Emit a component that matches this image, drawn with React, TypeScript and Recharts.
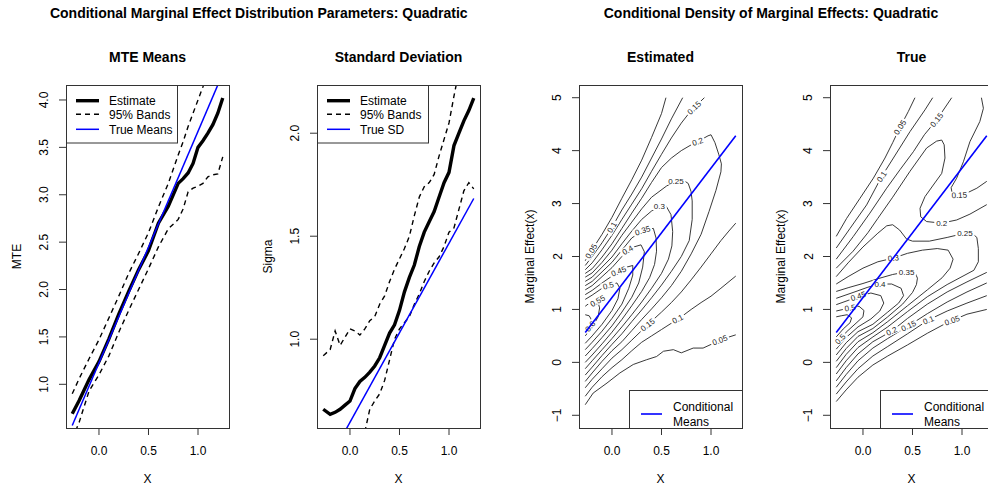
import React from "react";
import { ComposedChart, Line, XAxis, YAxis } from "recharts";

const FONT = '"Liberation Sans", Arial, Helvetica, sans-serif';
const BLUE = "#0000ff";
const FRAME = "#333";

// plot boxes: all four panels share the same size
const BOX_W = 163;
const BOX_H = 343;
const BOX_TOP = 85;
const AXIS_W = 50;
const AXIS_H = 50;
const panelLeft = [66, 317, 579, 830];

const xDomain: [number, number] = [-0.333, 1.313];
const xTicks = [0, 0.5, 1];

// ---- MTE means panel ----
const mteX = [-0.27, -0.2, -0.1, 0, 0.1, 0.2, 0.3, 0.4, 0.5, 0.6, 0.7, 0.8, 0.85, 0.9, 0.95, 1.0, 1.05, 1.1, 1.15, 1.2, 1.25];
const mteEstimate = [0.69, 0.83, 1.05, 1.24, 1.48, 1.74, 1.98, 2.21, 2.41, 2.7, 2.88, 3.12, 3.17, 3.23, 3.33, 3.5, 3.57, 3.65, 3.74, 3.86, 4.02];
const mteUpper = [0.9, 1.06, 1.27, 1.47, 1.7, 1.93, 2.17, 2.38, 2.6, 2.87, 3.12, 3.42, 3.56, 3.72, 3.86, 4.0, 4.14, 4.3, null, null, null];
const mteLower = [0.42, 0.6, 0.93, 1.1, 1.3, 1.55, 1.78, 2.0, 2.22, 2.45, 2.64, 2.74, 2.85, 3.03, 3.07, 3.09, 3.12, 3.19, 3.21, 3.22, 3.4];
const mteYTicks = [1, 1.5, 2, 2.5, 3, 3.5, 4];

// ---- standard deviation panel ----
const sdX = [-0.27, -0.2, -0.15, -0.1, -0.05, 0, 0.05, 0.1, 0.15, 0.2, 0.25, 0.3, 0.35, 0.4, 0.45, 0.5, 0.55, 0.6, 0.65, 0.7, 0.75, 0.8, 0.85, 0.9, 0.95, 1.0, 1.05, 1.1, 1.15, 1.2, 1.25];
const sdEstimate = [0.66, 0.635, 0.645, 0.66, 0.68, 0.7, 0.76, 0.795, 0.815, 0.84, 0.87, 0.91, 0.97, 1.03, 1.07, 1.14, 1.23, 1.3, 1.36, 1.45, 1.52, 1.57, 1.62, 1.69, 1.76, 1.81, 1.94, 2.0, 2.06, 2.11, 2.17];
const sdUpper = [0.92, 0.95, 1.04, 0.97, 1.01, 1.05, 1.04, 1.02, 1.05, 1.09, 1.11, 1.17, 1.21, 1.28, 1.34, 1.39, 1.44, 1.5, 1.6, 1.69, 1.74, 1.76, 1.8, 1.89, 1.97, 2.05, 2.18, 2.3, null, null, null];
const sdLower = [null, null, null, null, null, null, null, null, 0.55, 0.66, 0.7, 0.735, 0.8, 0.9, 1.0, 1.05, 1.08, 1.11, 1.17, 1.22, 1.28, 1.33, 1.37, 1.4, 1.45, 1.52, 1.54, 1.63, 1.72, 1.76, 1.73];
const sdYTicks = [1, 1.5, 2];

// true (straight) lines
const trueX = [-0.27, 1.25];
const trueMeans = [0.565, 4.28];
const trueSd = [0.362, 1.683];

// ---- contour panels ----
const densYTicks = [-1, 0, 1, 2, 3, 4, 5];

// estimated density contours, levels 0.05 .. 0.6
const estContours: number[][][] = [
  [[-0.27, 1.92], [-0.2, 2.13], [-0.1, 2.42], [0, 2.74], [0.1, 3.1], [0.2, 3.45], [0.3, 3.82], [0.4, 4.25], [0.5, 4.7], [0.545, 5.0]],
  [[-0.27, -0.8], [-0.19, -0.58], [-0.05, -0.39], [0.08, -0.2], [0.215, -0.04], [0.35, 0.05], [0.45, 0.11], [0.52, 0.21], [0.62, 0.24], [0.7, 0.18], [0.82, 0.27], [0.92, 0.27], [0.99, 0.33], [1.1, 0.43], [1.25, 0.52]],
  [[-0.27, 1.83], [-0.2, 2.0], [-0.1, 2.26], [0, 2.55], [0.1, 2.88], [0.2, 3.18], [0.3, 3.5], [0.4, 3.86], [0.5, 4.22], [0.6, 4.6], [0.714, 5.0]],
  [[-0.27, -0.64], [-0.2, -0.47], [-0.1, -0.27], [0, -0.1], [0.1, 0.05], [0.2, 0.22], [0.3, 0.38], [0.4, 0.5], [0.5, 0.62], [0.6, 0.74], [0.7, 0.86], [0.8, 1.0], [0.9, 1.13], [1.0, 1.25], [1.1, 1.4], [1.25, 1.63]],
  [[-0.27, 1.75], [-0.2, 1.88], [-0.1, 2.13], [0, 2.4], [0.1, 2.7], [0.2, 2.99], [0.3, 3.28], [0.4, 3.61], [0.5, 3.93], [0.6, 4.24], [0.7, 4.52], [0.8, 4.76], [0.933, 5.0]],
  [[-0.27, -0.48], [-0.2, -0.32], [-0.1, -0.12], [0, 0.08], [0.1, 0.24], [0.2, 0.42], [0.36, 0.71], [0.5, 0.95], [0.6, 1.13], [0.7, 1.33], [0.8, 1.56], [0.9, 1.8], [1.0, 2.05], [1.1, 2.3], [1.18, 2.48], [1.25, 2.63]],
  [[-0.27, -0.36], [-0.2, -0.2], [-0.1, 0.02], [0, 0.22], [0.1, 0.39], [0.2, 0.6], [0.3, 0.81], [0.4, 1.01], [0.5, 1.22], [0.6, 1.45], [0.7, 1.72], [0.8, 2.05], [0.9, 2.42], [0.98, 2.85], [1.05, 3.25], [1.1, 3.6], [1.105, 3.75], [1.08, 3.92], [1.04, 4.15], [1.0, 4.3], [0.97, 4.28], [0.865, 4.17], [0.8, 4.11], [0.7, 4.0], [0.6, 3.86], [0.5, 3.68], [0.4, 3.4], [0.3, 3.1], [0.2, 2.82], [0.1, 2.53], [0, 2.24], [-0.1, 1.99], [-0.2, 1.77], [-0.27, 1.68]],
  [[-0.27, -0.24], [-0.2, -0.09], [-0.1, 0.13], [0, 0.34], [0.1, 0.54], [0.2, 0.77], [0.3, 0.99], [0.4, 1.22], [0.5, 1.46], [0.6, 1.72], [0.7, 2.0], [0.78, 2.3], [0.81, 2.7], [0.81, 3.05], [0.798, 3.23], [0.77, 3.38], [0.73, 3.43], [0.646, 3.43], [0.55, 3.33], [0.4, 3.12], [0.3, 2.9], [0.2, 2.65], [0.1, 2.4], [0, 2.12], [-0.1, 1.89], [-0.2, 1.69], [-0.27, 1.61]],
  [[-0.27, -0.12], [-0.2, 0.03], [-0.1, 0.24], [0, 0.45], [0.1, 0.67], [0.2, 0.9], [0.3, 1.14], [0.4, 1.4], [0.5, 1.68], [0.57, 1.95], [0.605, 2.2], [0.613, 2.47], [0.596, 2.79], [0.545, 2.96], [0.478, 2.95], [0.4, 2.86], [0.3, 2.7], [0.2, 2.48], [0.1, 2.24], [0, 1.99], [-0.1, 1.8], [-0.2, 1.61], [-0.27, 1.53]],
  [[-0.27, 0.0], [-0.2, 0.14], [-0.1, 0.35], [0, 0.57], [0.1, 0.81], [0.2, 1.07], [0.3, 1.34], [0.38, 1.6], [0.43, 1.85], [0.45, 2.1], [0.445, 2.35], [0.418, 2.53], [0.35, 2.52], [0.31, 2.49], [0.2, 2.35], [0.1, 2.12], [0, 1.89], [-0.1, 1.71], [-0.2, 1.53], [-0.27, 1.45]],
  [[-0.27, 0.12], [-0.2, 0.26], [-0.1, 0.47], [0, 0.69], [0.1, 0.95], [0.2, 1.23], [0.27, 1.5], [0.31, 1.8], [0.327, 2.09], [0.293, 2.22], [0.22, 2.18], [0.158, 2.12], [0.1, 2.0], [0, 1.79], [-0.1, 1.62], [-0.2, 1.45], [-0.27, 1.37]],
  [[-0.27, 0.24], [-0.2, 0.38], [-0.1, 0.59], [0, 0.83], [0.1, 1.1], [0.17, 1.4], [0.21, 1.65], [0.21, 1.83], [0.15, 1.8], [0.067, 1.72], [0, 1.63], [-0.1, 1.5], [-0.2, 1.36], [-0.27, 1.28]],
  [[-0.27, 0.36], [-0.2, 0.5], [-0.1, 0.72], [0, 0.98], [0.06, 1.2], [0.08, 1.4], [0.05, 1.5], [-0.037, 1.45], [-0.1, 1.4], [-0.2, 1.27], [-0.27, 1.19]],
  [[-0.27, 0.5], [-0.2, 0.66], [-0.14, 0.86], [-0.125, 1.03], [-0.145, 1.16], [-0.2, 1.16], [-0.27, 1.06]],
  [[-0.27, 0.6], [-0.22, 0.68], [-0.2, 0.78], [-0.23, 0.88], [-0.27, 0.9]],
];

const estLabels = [
  { x: -0.21, y: 2.1, text: "0.05", angle: -58 },
  { x: 0, y: 2.55, text: "0.1", angle: -60 },
  { x: 0.83, y: 4.81, text: "0.15", angle: -44 },
  { x: 0.865, y: 4.17, text: "0.2", angle: -18 },
  { x: 0.646, y: 3.43, text: "0.25", angle: 0 },
  { x: 0.478, y: 2.95, text: "0.3", angle: 0 },
  { x: 0.31, y: 2.49, text: "0.35", angle: -18 },
  { x: 0.158, y: 2.12, text: "0.4", angle: -30 },
  { x: 0.067, y: 1.72, text: "0.45", angle: -22 },
  { x: -0.037, y: 1.45, text: "0.5", angle: -15 },
  { x: -0.145, y: 1.16, text: "0.55", angle: -30 },
  { x: -0.22, y: 0.68, text: "0.6", angle: -50 },
  { x: 0.36, y: 0.71, text: "0.15", angle: -38 },
  { x: 0.663, y: 0.82, text: "0.1", angle: -28 },
  { x: 1.09, y: 0.42, text: "0.05", angle: -20 },
];

// true density contours
const trueContours: number[][][] = [
  [[-0.27, 2.38], [-0.165, 2.72], [-0.03, 3.1], [0.105, 3.48], [0.222, 3.86], [0.3, 4.15], [0.374, 4.44], [0.458, 4.74], [0.525, 5.0]],
  [[-0.27, -0.74], [-0.17, -0.52], [-0.05, -0.28], [0.1, -0.05], [0.25, 0.12], [0.45, 0.33], [0.65, 0.55], [0.85, 0.75], [0.9, 0.79], [1.05, 0.91], [1.25, 1.0]],
  [[-0.27, 2.16], [-0.131, 2.53], [0.037, 2.975], [0.189, 3.51], [0.307, 3.86], [0.475, 4.36], [0.626, 4.77], [0.704, 5.0]],
  [[-0.27, -0.6], [-0.17, -0.37], [-0.05, -0.12], [0.1, 0.12], [0.25, 0.3], [0.45, 0.54], [0.66, 0.8], [0.85, 0.97], [1.05, 1.12], [1.25, 1.26]],
  [[-0.27, 1.95], [-0.097, 2.38], [0.07, 2.82], [0.239, 3.29], [0.374, 3.64], [0.509, 3.98], [0.62, 4.3], [0.744, 4.58], [0.896, 5.0]],
  [[1.196, 5.0], [1.216, 4.8], [1.18, 4.55], [1.08, 4.17], [1.014, 3.79], [0.946, 3.48], [0.89, 3.3], [0.9, 3.2], [0.973, 3.16], [1.05, 3.2], [1.15, 3.29], [1.25, 3.42]],
  [[-0.27, -0.47], [-0.17, -0.23], [-0.05, 0.03], [0.1, 0.27], [0.25, 0.45], [0.46, 0.69], [0.65, 0.92], [0.85, 1.14], [1.05, 1.33], [1.25, 1.5]],
  [[-0.27, 1.78], [-0.1, 2.1], [0.05, 2.45], [0.15, 2.72], [0.3, 3.12], [0.475, 3.61], [0.643, 4.05], [0.744, 4.18], [0.795, 4.2], [0.82, 4.11], [0.828, 3.86], [0.795, 3.57], [0.71, 3.35], [0.626, 3.13], [0.576, 2.91], [0.583, 2.75], [0.643, 2.66], [0.795, 2.63], [0.946, 2.69], [1.08, 2.8], [1.25, 2.98]],
  [[-0.27, -0.35], [-0.17, -0.1], [-0.05, 0.16], [0.1, 0.39], [0.29, 0.59], [0.45, 0.83], [0.65, 1.1], [0.85, 1.33], [1.05, 1.52], [1.25, 1.7]],
  [[-0.27, -0.22], [-0.17, 0.03], [-0.05, 0.28], [0.1, 0.48], [0.25, 0.67], [0.45, 0.96], [0.65, 1.24], [0.85, 1.47], [1.0, 1.62], [1.12, 1.74], [1.165, 1.9], [1.165, 2.15], [1.15, 2.36], [1.1, 2.44], [1.03, 2.44], [0.85, 2.36], [0.67, 2.29], [0.5, 2.29], [0.44, 2.33], [0.37, 2.5], [0.3, 2.6], [0.24, 2.58], [0.15, 2.44], [0, 2.18], [-0.15, 1.88], [-0.27, 1.62]],
  [[-0.27, -0.1], [-0.17, 0.15], [-0.05, 0.39], [0.1, 0.56], [0.25, 0.77], [0.45, 1.07], [0.65, 1.37], [0.8, 1.6], [0.88, 1.78], [0.91, 1.95], [0.86, 2.12], [0.75, 2.15], [0.6, 2.12], [0.45, 2.06], [0.307, 1.97], [0.15, 1.9], [0, 1.78], [-0.15, 1.62], [-0.27, 1.48]],
  [[-0.27, 0.02], [-0.17, 0.26], [-0.05, 0.49], [0.1, 0.64], [0.25, 0.86], [0.4, 1.1], [0.5, 1.32], [0.54, 1.47], [0.55, 1.59], [0.525, 1.7], [0.441, 1.71], [0.3, 1.66], [0.15, 1.58], [0, 1.49], [-0.15, 1.41], [-0.27, 1.34]],
  [[-0.27, 0.14], [-0.17, 0.37], [-0.05, 0.58], [0.1, 0.72], [0.25, 0.95], [0.36, 1.12], [0.41, 1.26], [0.385, 1.4], [0.29, 1.48], [0.172, 1.48], [0.05, 1.42], [-0.1, 1.32], [-0.27, 1.21]],
  [[-0.27, 0.25], [-0.17, 0.47], [-0.05, 0.67], [0.08, 0.82], [0.17, 0.97], [0.21, 1.12], [0.18, 1.26], [0.08, 1.31], [-0.047, 1.25], [-0.15, 1.17], [-0.27, 1.09]],
  [[-0.27, 0.36], [-0.17, 0.57], [-0.07, 0.74], [0, 0.86], [0.01, 0.98], [-0.04, 1.06], [-0.13, 1.03], [-0.2, 1.0], [-0.27, 0.97]],
  [[-0.27, 0.48], [-0.2, 0.63], [-0.13, 0.75], [-0.115, 0.84], [-0.16, 0.9], [-0.22, 0.88], [-0.27, 0.86]],
];

const trueLabels = [
  { x: 0.374, y: 4.44, text: "0.05", angle: -57 },
  { x: 0.189, y: 3.51, text: "0.1", angle: -57 },
  { x: 0.744, y: 4.58, text: "0.15", angle: -52 },
  { x: 0.973, y: 3.16, text: "0.15", angle: -3 },
  { x: 0.795, y: 2.63, text: "0.2", angle: 0 },
  { x: 1.03, y: 2.44, text: "0.25", angle: 0 },
  { x: 0.307, y: 1.97, text: "0.3", angle: -8 },
  { x: 0.441, y: 1.71, text: "0.35", angle: 0 },
  { x: 0.172, y: 1.48, text: "0.4", angle: 0 },
  { x: -0.047, y: 1.25, text: "0.45", angle: -18 },
  { x: -0.13, y: 1.03, text: "0.5", angle: -8 },
  { x: -0.23, y: 0.44, text: "0.5", angle: -45 },
  { x: 0.29, y: 0.59, text: "0.2", angle: -25 },
  { x: 0.46, y: 0.69, text: "0.15", angle: -25 },
  { x: 0.66, y: 0.8, text: "0.1", angle: -22 },
  { x: 0.9, y: 0.79, text: "0.05", angle: -20 },
];

const toRows = (xs: number[], ys: (number | null)[]) => xs.map((x, i) => ({ x, y: ys[i] }));
const toPts = (p: number[][]) => p.map(([x, y]) => ({ x, y }));

const fmt1 = (v: number) => v.toFixed(1);
const fmtInt = (v: number) => (v < 0 ? `\u2212${-v}` : `${v}`);

const XTick = (props: any) => {
  const { x, y, payload } = props;
  return (
    <text x={x} y={y + 20} textAnchor="middle" fontSize={12} fontFamily={FONT} fill="#000">
      {fmt1(payload.value)}
    </text>
  );
};

const makeYTick = (fmt: (v: number) => string) => (props: any) => {
  const { x, y, payload } = props;
  const tx = x - 10.5;
  return (
    <text x={tx} y={y} transform={`rotate(-90 ${tx} ${y})`} textAnchor="middle" fontSize={12} fontFamily={FONT} fill="#000">
      {fmt(payload.value)}
    </text>
  );
};

// contour level text, drawn as the "dot" of an invisible line
const ContourLabel = (props: any) => {
  const { cx, cy, payload, index } = props;
  if (cx == null || cy == null || !payload) return <g key={`l${index}`} />;
  const w = payload.text.length * 4.3 + 2;
  return (
    <g key={`l${index}`} transform={`rotate(${payload.angle} ${cx} ${cy})`}>
      <rect x={cx - w / 2} y={cy - 3.8} width={w} height={7.6} fill="#fff" />
      <text x={cx} y={cy + 2.8} textAnchor="middle" fontSize={8} fontFamily={FONT} fill="#222">
        {payload.text}
      </text>
    </g>
  );
};

function Panel({ left, yDomain, yTicks, yFmt, children }: any) {
  return (
    <div style={{ position: "absolute", left: left - AXIS_W, top: BOX_TOP }}>
      <ComposedChart width={AXIS_W + BOX_W} height={BOX_H + AXIS_H} margin={{ top: 0, right: 0, bottom: 0, left: 0 }}>
        <XAxis
          type="number"
          dataKey="x"
          domain={xDomain}
          allowDataOverflow
          ticks={xTicks}
          interval={0}
          height={AXIS_H}
          tickSize={7}
          tickMargin={0}
          axisLine={false}
          tickLine={{ stroke: FRAME }}
          tick={XTick}
        />
        <YAxis
          type="number"
          dataKey="y"
          domain={yDomain}
          allowDataOverflow
          ticks={yTicks}
          interval={0}
          width={AXIS_W}
          tickSize={7}
          tickMargin={0}
          axisLine={false}
          tickLine={{ stroke: FRAME }}
          tick={makeYTick(yFmt)}
        />
        {children}
      </ComposedChart>
    </div>
  );
}

function ParamPanel({ left, xs, est, upper, lower, trueVals, yDomain, yTicks }: any) {
  return (
    <Panel left={left} yDomain={yDomain} yTicks={yTicks} yFmt={fmt1}>
      <Line data={toRows(xs, upper)} dataKey="y" stroke="#000" strokeWidth={1.4} strokeDasharray="5 4" dot={false} isAnimationActive={false} />
      <Line data={toRows(xs, lower)} dataKey="y" stroke="#000" strokeWidth={1.4} strokeDasharray="5 4" dot={false} isAnimationActive={false} />
      <Line data={toRows(xs, est)} dataKey="y" stroke="#000" strokeWidth={3.4} dot={false} isAnimationActive={false} />
      <Line data={toRows(trueX, trueVals)} dataKey="y" stroke={BLUE} strokeWidth={1.5} dot={false} isAnimationActive={false} />
    </Panel>
  );
}

function DensityPanel({ left, contours, labels }: any) {
  return (
    <Panel left={left} yDomain={[-1.24, 5.24]} yTicks={densYTicks} yFmt={fmtInt}>
      {contours.map((p: number[][], i: number) => (
        <Line key={`c${i}`} data={toPts(p)} dataKey="y" stroke="#222" strokeWidth={0.9} dot={false} isAnimationActive={false} />
      ))}
      <Line data={labels} dataKey="y" stroke="none" dot={ContourLabel} activeDot={false} isAnimationActive={false} />
      <Line
        data={toRows(trueX, trueMeans)}
        dataKey="y"
        stroke={BLUE}
        strokeWidth={1.6}
        dot={false}
        isAnimationActive={false}
        {...({ zIndex: 2500 } as any)}
      />
    </Panel>
  );
}

function ParamLegend({ left, last }: { left: number; last: string }) {
  const L = left;
  return (
    <g>
      <rect x={L + 0.5} y={BOX_TOP + 0.5} width={111} height={57.5} fill="#fff" stroke={FRAME} />
      <line x1={L + 10} x2={L + 33} y1={100.7} y2={100.7} stroke="#000" strokeWidth={3.4} />
      <line x1={L + 10} x2={L + 33} y1={114.3} y2={114.3} stroke="#000" strokeWidth={1.4} strokeDasharray="5 4" />
      <line x1={L + 10} x2={L + 33} y1={129.3} y2={129.3} stroke={BLUE} strokeWidth={1.5} />
      <text x={L + 43} y={105} fontSize={12}>Estimate</text>
      <text x={L + 43} y={119} fontSize={12}>95% Bands</text>
      <text x={L + 43} y={133.6} fontSize={12}>{last}</text>
    </g>
  );
}

function DensityLegend({ left }: { left: number }) {
  const L = left;
  const bottom = BOX_TOP + BOX_H;
  return (
    <g>
      <rect x={L + 50.5} y={bottom - 37.5} width={113} height={38} fill="#fff" stroke={FRAME} />
      <line x1={L + 62} x2={L + 83} y1={bottom - 14} y2={bottom - 14} stroke={BLUE} strokeWidth={1.6} />
      <text x={L + 94} y={bottom - 16.7} fontSize={12}>Conditional</text>
      <text x={L + 94} y={bottom - 2.5} fontSize={12}>Means</text>
    </g>
  );
}

export default function App() {
  const titles = ["MTE Means", "Standard Deviation", "Estimated", "True"];
  const yTitles = ["MTE", "Sigma", "Marginal Effect(x)", "Marginal Effect(x)"];
  const midY = BOX_TOP + BOX_H / 2;
  return (
    <div style={{ position: "fixed", left: 0, top: 0, width: 988, height: 488, overflow: "hidden", background: "#fff", fontFamily: FONT }}>
      <ParamPanel left={panelLeft[0]} xs={mteX} est={mteEstimate} upper={mteUpper} lower={mteLower} trueVals={trueMeans} yDomain={[0.539, 4.158]} yTicks={mteYTicks} />
      <ParamPanel left={panelLeft[1]} xs={sdX} est={sdEstimate} upper={sdUpper} lower={sdLower} trueVals={trueSd} yDomain={[0.569, 2.234]} yTicks={sdYTicks} />
      <DensityPanel left={panelLeft[2]} contours={estContours} labels={estLabels} />
      <DensityPanel left={panelLeft[3]} contours={trueContours} labels={trueLabels} />
      <svg width={1000} height={488} style={{ position: "absolute", left: 0, top: 0, pointerEvents: "none" }} fontFamily={FONT} fill="#000">
        <text x={258.8} y={18.3} textAnchor="middle" fontSize={14} fontWeight="bold">
          Conditional Marginal Effect Distribution Parameters: Quadratic
        </text>
        <text x={771} y={18.3} textAnchor="middle" fontSize={14} fontWeight="bold">
          Conditional Density of Marginal Effects: Quadratic
        </text>
        {panelLeft.map((L, i) => (
          <g key={`p${i}`}>
            <text x={L + BOX_W / 2} y={62} textAnchor="middle" fontSize={14} fontWeight="bold">
              {titles[i]}
            </text>
            <rect x={L + 0.5} y={BOX_TOP + 0.5} width={BOX_W} height={BOX_H} fill="none" stroke={FRAME} />
            <text x={L + BOX_W / 2} y={483.3} textAnchor="middle" fontSize={12}>
              X
            </text>
            <text x={L - 45} y={midY} transform={`rotate(-90 ${L - 45} ${midY})`} textAnchor="middle" fontSize={12}>
              {yTitles[i]}
            </text>
          </g>
        ))}
        <ParamLegend left={panelLeft[0]} last="True Means" />
        <ParamLegend left={panelLeft[1]} last="True SD" />
        <DensityLegend left={panelLeft[2]} />
        <DensityLegend left={panelLeft[3]} />
      </svg>
    </div>
  );
}
